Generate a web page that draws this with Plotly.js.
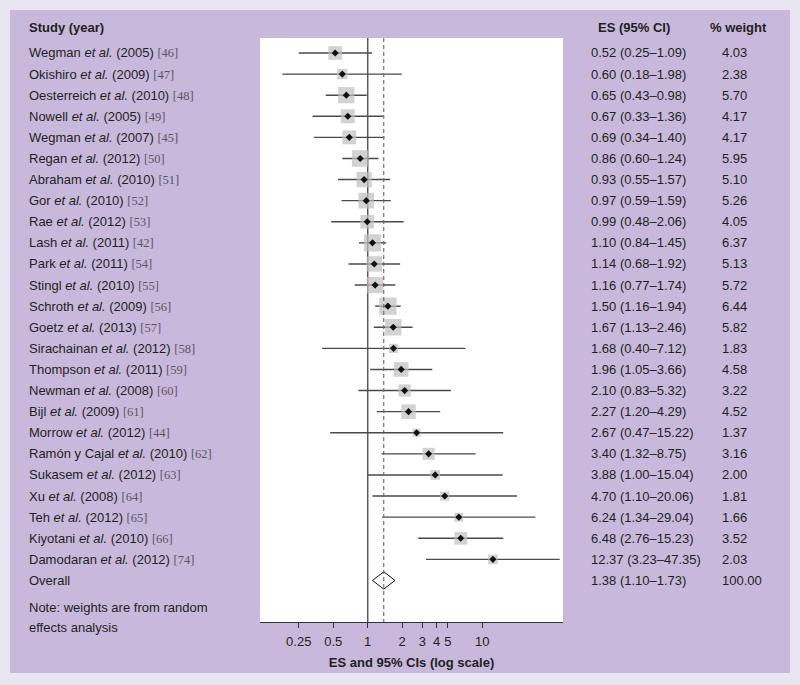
<!DOCTYPE html>
<html>
<head>
<meta charset="utf-8">
<script src="https://cdn.plot.ly/plotly-3.0.1.min.js"></script>
<style>
html,body{margin:0;padding:0;background:#e9e6f2;}
#chart{width:800px;height:685px;}
</style>
</head>
<body>
<div id="chart"></div>
<script>
// ---- data ----
const authors = ['Wegman','Okishiro','Oesterreich','Nowell','Wegman','Regan','Abraham','Gor','Rae','Lash','Park','Stingl','Schroth','Goetz','Sirachainan','Thompson','Newman','Bijl','Morrow','Ramón y Cajal','Sukasem','Xu','Teh','Kiyotani','Damodaran'];
const years = [2005,2009,2010,2005,2007,2012,2010,2010,2012,2011,2011,2010,2009,2013,2012,2011,2008,2009,2012,2010,2012,2008,2012,2010,2012];
const refs = [46,47,48,49,45,50,51,52,53,42,54,55,56,57,58,59,60,61,44,62,63,64,65,66,74];
const es = [0.52,0.60,0.65,0.67,0.69,0.86,0.93,0.97,0.99,1.10,1.14,1.16,1.50,1.67,1.68,1.96,2.10,2.27,2.67,3.40,3.88,4.70,6.24,6.48,12.37];
const lo = [0.25,0.18,0.43,0.33,0.34,0.60,0.55,0.59,0.48,0.84,0.68,0.77,1.16,1.13,0.40,1.05,0.83,1.20,0.47,1.32,1.00,1.10,1.34,2.76,3.23];
const hi = [1.09,1.98,0.98,1.36,1.40,1.24,1.57,1.59,2.06,1.45,1.92,1.74,1.94,2.46,7.12,3.66,5.32,4.29,15.22,8.75,15.04,20.06,29.04,15.23,47.35];
const weights = [4.03,2.38,5.70,4.17,4.17,5.95,5.10,5.26,4.05,6.37,5.13,5.72,6.44,5.82,1.83,4.58,3.22,4.52,1.37,3.16,2.00,1.81,1.66,3.52,2.03];
const overallLabel = 'Overall';
const overallES = 1.38, overallLo = 1.10, overallHi = 1.73, overallWeight = 100.00;
const tickVals = [0.25,0.5,1,2,3,4,5,10];
const tickText = ['0.25','0.5','1','2','3','4','5','10'];
const headerStudy = 'Study (year)';
const headerES = 'ES (95% CI)';
const headerWeight = '% weight';
const axisTitle = 'ES and 95% CIs (log scale)';
const noteLines = ['Note: weights are from random','effects analysis'];

// ---- layout helpers ----
const W = 800, H = 685;
const L = 260, R = 563, T = 38, B = 622;
const px2px = x => (x - L) / (R - L);
const py2py = y => (B - y) / (B - T);
const yTop = -0.71, yBot = 26.97;
const FONT = 'Liberation Sans, Arial, sans-serif';
const TXT = '#231f20';

const n = es.length;
const rows = es.map((_, i) => i);
const overallRow = n;

// whiskers
const wx = [], wy = [];
for (let i = 0; i < n; i++) { wx.push(lo[i], hi[i], null); wy.push(i, i, null); }

const fmt = v => v.toFixed(2);

const traces = [
  { // reference line at 1
    x: [1, 1], y: [yTop, yBot], mode: 'lines', type: 'scatter',
    line: { color: '#5a5a5a', width: 1.5 }, hoverinfo: 'skip', showlegend: false, cliponaxis: false
  },
  { // whiskers
    x: wx, y: wy, mode: 'lines', type: 'scatter',
    line: { color: '#4a4a4a', width: 1.4 }, hoverinfo: 'skip', showlegend: false
  },
  { // weight squares
    x: es, y: rows, mode: 'markers', type: 'scatter',
    marker: { symbol: 'square', size: weights.map(w => Math.sqrt(w) * 6.8), color: '#bfbfbf', line: { width: 0 } },
    showlegend: false
  },
  { // overall diamond
    x: [overallLo, overallES, overallHi, overallES, overallLo],
    y: [overallRow, overallRow - 0.41, overallRow, overallRow + 0.41, overallRow],
    mode: 'lines', type: 'scatter', fill: 'toself', fillcolor: '#ffffff',
    line: { color: '#111111', width: 1 }, showlegend: false
  },
  { // pooled estimate dashed line
    x: [overallES, overallES], y: [yTop, yBot], mode: 'lines', type: 'scatter',
    line: { color: '#9a4f55', width: 1.1, dash: '4px,3px' }, hoverinfo: 'skip', showlegend: false
  },
  { // point estimates
    x: es, y: rows, mode: 'markers', type: 'scatter',
    marker: { symbol: 'diamond', size: 5.5, color: '#111111' }, showlegend: false
  }
];

const annotations = [];
const addText = (text, x, y, yref, opts) => annotations.push(Object.assign({
  text, x, y, xref: 'paper', yref, showarrow: false, xanchor: 'left', yanchor: 'middle',
  font: { family: FONT, size: 13, color: TXT }
}, opts || {}));

for (let i = 0; i < n; i++) {
  const label = authors[i] + ' <i>et al.</i> (' + years[i] + ') ' +
    '<span style="font-family:\'Liberation Serif\',serif;fill:#5a5560;font-size:12.5px">[' + refs[i] + ']</span>';
  addText(label, px2px(27), i, 'y');
  addText(fmt(es[i]) + ' (' + fmt(lo[i]) + '–' + fmt(hi[i]) + ')', px2px(589), i, 'y');
  addText(fmt(weights[i]), px2px(720), i, 'y');
}
addText(overallLabel, px2px(27), overallRow, 'y');
addText(fmt(overallES) + ' (' + fmt(overallLo) + '–' + fmt(overallHi) + ')', px2px(589), overallRow, 'y');
addText(fmt(overallWeight), px2px(720), overallRow, 'y');

addText('<b>' + headerStudy + '</b>', px2px(27), py2py(27), 'paper');
addText('<b>' + headerES + '</b>', px2px(634), py2py(27), 'paper', { xanchor: 'center' });
addText('<b>' + headerWeight + '</b>', px2px(738), py2py(27), 'paper', { xanchor: 'center' });
addText(noteLines[0], px2px(27), py2py(607), 'paper');
addText(noteLines[1], px2px(27), py2py(627), 'paper');

const shapes = [
  { type: 'rect', xref: 'paper', yref: 'paper', layer: 'below',
    x0: px2px(10), x1: px2px(790), y0: py2py(673), y1: py2py(10),
    fillcolor: '#c8b9dc', line: { width: 0 } },
  { type: 'rect', xref: 'paper', yref: 'paper', layer: 'below',
    x0: 0, x1: 1, y0: 0, y1: 1, fillcolor: '#ffffff', line: { width: 0 } }
];

const layout = {
  width: W, height: H,
  margin: { l: L, r: W - R, t: T, b: H - B, pad: 0 },
  paper_bgcolor: '#e9e6f2',
  plot_bgcolor: 'rgba(0,0,0,0)',
  font: { family: FONT, size: 13, color: TXT },
  showlegend: false,
  hovermode: false,
  xaxis: {
    type: 'log',
    range: [Math.log10(0.1148), Math.log10(50.6)],
    tickvals: tickVals, ticktext: tickText,
    ticks: 'outside', ticklen: 5, tickwidth: 1, tickcolor: '#333',
    ticklabelstandoff: 2,
    showline: true, linecolor: '#333', linewidth: 1,
    showgrid: false, zeroline: false, automargin: false,
    tickfont: { family: FONT, size: 13, color: TXT },
    title: { text: '<b>' + axisTitle + '</b>', font: { family: FONT, size: 13, color: TXT }, standoff: 10 }
  },
  yaxis: {
    range: [yBot, yTop], visible: false, showgrid: false, zeroline: false, fixedrange: true
  },
  shapes, annotations
};

Plotly.newPlot('chart', traces, layout, { displayModeBar: false, staticPlot: true });
</script>
</body>
</html>
